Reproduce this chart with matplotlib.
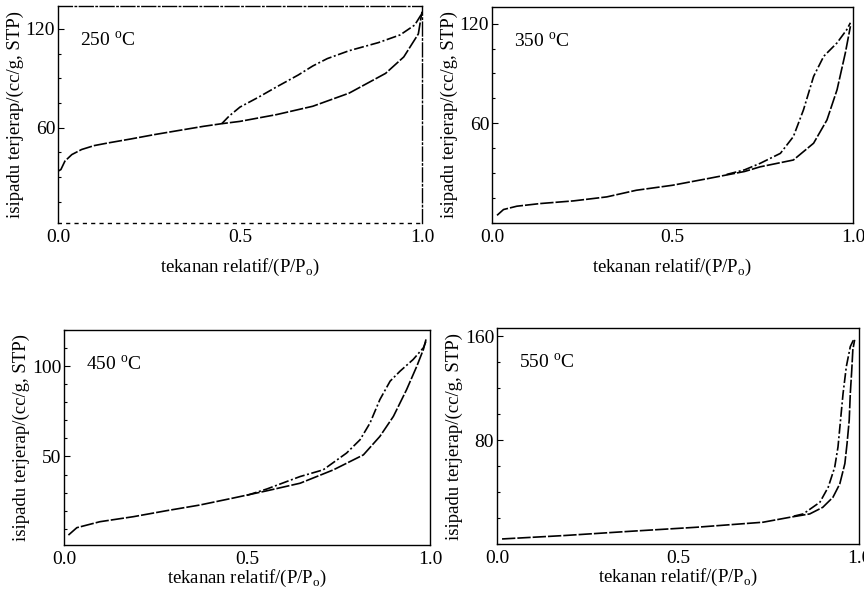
import matplotlib
matplotlib.use("Agg")
import matplotlib.pyplot as plt
from matplotlib.ticker import MultipleLocator

plt.rcParams['font.family'] = ['Liberation Serif', 'DejaVu Serif']
plt.rcParams['mathtext.fontset'] = 'custom'
plt.rcParams['mathtext.rm'] = 'Liberation Serif'

# data: cabang penjerapan (ads) dan nyahjerap (des)
p250_ads_x = [0.0, 0.008, 0.019, 0.038, 0.065, 0.1, 0.138, 0.2, 0.266, 0.33, 0.4, 0.45, 0.5, 0.6,
              0.7, 0.8, 0.9, 0.95, 0.99, 1.0]
p250_ads_y = [33.5, 34.5, 39.6, 43.6, 46.7, 49.1, 50.7, 53.1, 55.8, 58.2, 60.8, 62.4, 63.8, 67.9,
              73.0, 81.0, 93.0, 103.0, 117.0, 130.5]
p250_des_x = [0.45, 0.47, 0.5, 0.55, 0.6, 0.66, 0.7, 0.74, 0.8, 0.88, 0.94, 0.98, 1.0]
p250_des_y = [62.4, 67.0, 72.5, 78.4, 84.7, 92.0, 97.5, 102.0, 106.8, 111.7, 116.4, 122.4, 129.5]

p350_ads_x = [0.014, 0.032, 0.069, 0.134, 0.226, 0.318, 0.4, 0.5, 0.6, 0.7, 0.743, 0.835,
              0.891, 0.928, 0.956, 0.979, 0.993]
p350_ads_y = [4.6, 8.1, 10.1, 11.7, 13.3, 15.7, 19.7, 22.7, 26.8, 31.0, 33.8, 37.9,
              48.0, 62.0, 80.2, 102.4, 118.4]
p350_des_x = [0.65, 0.7, 0.743, 0.799, 0.835, 0.863, 0.891, 0.919, 0.956, 0.983, 0.993]
p350_des_y = [29.2, 32.0, 35.9, 41.9, 52.0, 68.1, 88.2, 100.3, 108.4, 116.4, 120.5]

p450_ads_x = [0.012, 0.035, 0.098, 0.19, 0.28, 0.37, 0.46, 0.554, 0.645, 0.736, 0.818, 0.863,
              0.9, 0.936, 0.964, 0.982, 0.989]
p450_ads_y = [6.5, 10.6, 13.9, 16.7, 20.0, 23.1, 26.9, 31.0, 35.2, 42.6, 50.9, 61.1,
              72.2, 87.0, 100.0, 109.3, 114.8]
p450_des_x = [0.5, 0.554, 0.645, 0.708, 0.772, 0.809, 0.836, 0.863, 0.891, 0.918, 0.954, 0.982, 0.991]
p450_des_y = [28.5, 32.0, 38.9, 42.6, 51.9, 59.3, 68.5, 81.5, 91.7, 97.2, 103.7, 110.2, 114.8]

p550_ads_x = [0.014, 0.184, 0.368, 0.55, 0.735, 0.809, 0.864, 0.9, 0.928, 0.947, 0.961, 0.967,
              0.973, 0.976, 0.98, 0.983, 0.988]
p550_ads_y = [3.9, 6.5, 9.8, 12.9, 16.8, 20.6, 23.2, 28.3, 36.0, 46.4, 62.0, 77.4,
              95.5, 116.0, 134.0, 149.7, 157.4]
p550_des_x = [0.82, 0.846, 0.892, 0.915, 0.933, 0.942, 0.949, 0.956, 0.965, 0.976, 0.985]
p550_des_y = [21.5, 23.2, 32.2, 43.8, 59.3, 74.8, 95.5, 116.0, 136.7, 152.2, 157.4]

suhu = ['250', '350', '450', '550']
panels = [
    (p250_ads_x, p250_ads_y, p250_des_x, p250_des_y, (2, 134), [60, 120]),
    (p350_ads_x, p350_ads_y, p350_des_x, p350_des_y, (0, 130), [60, 120]),
    (p450_ads_x, p450_ads_y, p450_des_x, p450_des_y, (1, 120), [50, 100]),
    (p550_ads_x, p550_ads_y, p550_des_x, p550_des_y, (0, 166.5), [80, 160]),
]
minor = [15, 15, 10, 20]
kedudukan = [
    [0.0671, 0.6227, 0.4213, 0.3672],
    [0.5694, 0.6227, 0.4178, 0.3655],
    [0.0741, 0.0778, 0.4236, 0.3638],
    [0.5752, 0.0795, 0.4190, 0.3655],
]
xpad = [8, 8, 0, 0]

fig = plt.figure(figsize=(8.64, 5.91), dpi=100)

for i, (ax_x, ax_y, ds_x, ds_y, ylim, yt) in enumerate(panels):
    ax = fig.add_axes(kedudukan[i])
    ax.plot(ax_x, ax_y, color='black', lw=1.2, dashes=(8, 1.2))
    ax.plot(ds_x, ds_y, color='black', lw=1.2, dashes=(6, 1.5, 1.2, 1.5))
    ax.set_xlim(0, 1.0)
    ax.set_ylim(*ylim)
    ax.set_xticks([0.0, 0.5, 1.0])
    ax.set_xticklabels(['0.0', '0.5', '1.0'])
    ax.set_yticks(yt)
    ax.yaxis.set_minor_locator(MultipleLocator(minor[i]))
    ax.tick_params(direction='in', labelsize=14, length=4, width=0.8, pad=2)
    ax.tick_params(axis='x', length=0, pad=4)
    ax.tick_params(which='minor', direction='in', length=2.5, width=0.8)
    for s in ax.spines.values():
        s.set_linewidth(1.0)
    ax.set_xlabel('tekanan relatif/(P/P$_\\mathregular{o}$)', fontsize=13.5, labelpad=xpad[i])
    ax.set_ylabel('isipadu terjerap/(cc/g, STP)', fontsize=13.5, labelpad=1)
    ax.text(0.06, 0.84, suhu[i] + ' $^\\mathregular{o}$C', transform=ax.transAxes,
            fontsize=14, va='center', ha='left')
    if i == 0:
        ax.spines['top'].set_linestyle((0, (10, 2, 1, 2)))
        ax.spines['bottom'].set_linestyle((0, (2, 4)))
        ax.spines['right'].set_linestyle((0, (10, 2, 1, 2)))

fig.savefig('out.png', dpi=100)
